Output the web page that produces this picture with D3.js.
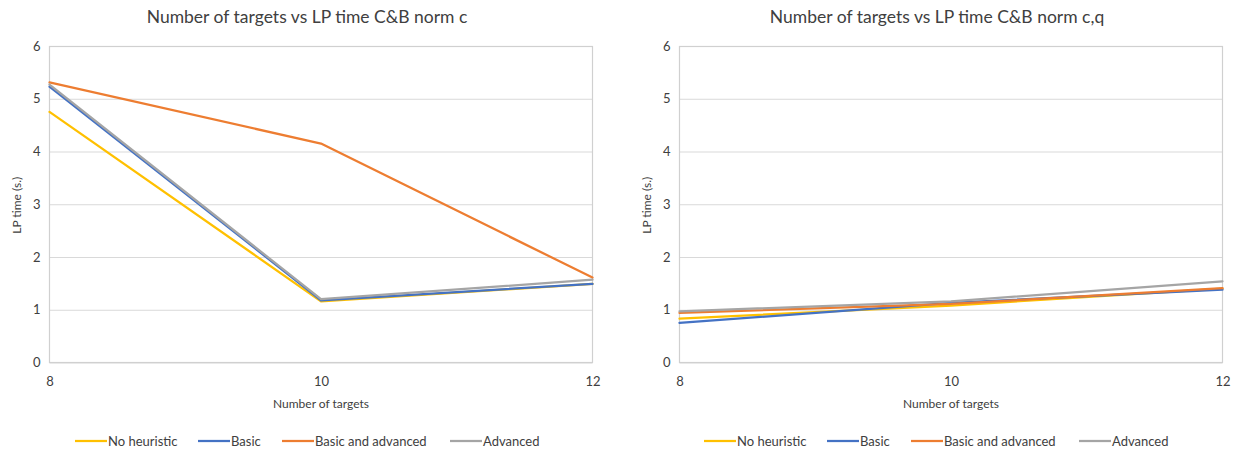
<!DOCTYPE html>
<html>
<head>
<meta charset="utf-8">
<script src="https://cdn.jsdelivr.net/npm/d3@7/dist/d3.min.js"></script>
<style>
  html, body { margin: 0; padding: 0; background: #fff; }
  svg { display: block; }
  text { font-family: Lato, "Open Sans", sans-serif; fill: #404040; }
</style>
</head>
<body>
<svg id="chart" width="1238" height="453"></svg>
<script>
// Number of targets on the x axis
const targets = [8, 10, 12];
const yTicks = [0, 1, 2, 3, 4, 5, 6];
const xTicks = [8, 10, 12];

const seriesNames = ["No heuristic", "Basic", "Basic and advanced", "Advanced"];
const seriesColors = ["#FFC000", "#4472C4", "#ED7D31", "#A5A5A5"];

// LP time (s.) for norm c
const normC_noHeuristic = [4.75, 1.16, 1.49];
const normC_basic = [5.23, 1.18, 1.49];
const normC_basicAdvanced = [5.31, 4.15, 1.61];
const normC_advanced = [5.27, 1.20, 1.57];

// LP time (s.) for norm c,q
const normCQ_noHeuristic = [0.83, 1.08, 1.40];
const normCQ_basic = [0.75, 1.13, 1.38];
const normCQ_basicAdvanced = [0.94, 1.11, 1.41];
const normCQ_advanced = [0.97, 1.16, 1.54];

const panels = [
  { title: "Number of targets vs LP time C&B norm c",
    series: [normC_noHeuristic, normC_basic, normC_basicAdvanced, normC_advanced],
    left: 49.5, right: 592.5, legendX: [75, 198, 282, 450] },
  { title: "Number of targets vs LP time C&B norm c,q",
    series: [normCQ_noHeuristic, normCQ_basic, normCQ_basicAdvanced, normCQ_advanced],
    left: 679.5, right: 1222.5, legendX: [704, 827, 911, 1079] }
];

const svg = d3.select("#chart");
const plotTop = 46, plotBottom = 362.5;

panels.forEach(p => {
  const x = d3.scaleLinear().domain([8, 12]).range([p.left, p.right]);
  const y = d3.scaleLinear().domain([0, 6]).range([plotBottom, plotTop]);
  const g = svg.append("g");
  const cx = (p.left + p.right) / 2;

  // title, centred over the whole panel (including the axis labels)
  g.append("text").attr("x", cx - 14).attr("y", 23)
    .attr("text-anchor", "middle").attr("font-size", 17.5)
    .text(p.title);

  // horizontal gridlines with value labels
  const yAxis = d3.axisLeft(y).tickValues(yTicks).tickFormat(d3.format("d"))
    .tickSize(-(p.right - p.left)).tickPadding(9);
  const ya = g.append("g").attr("transform", `translate(${p.left},0)`).call(yAxis);
  ya.select(".domain").remove();
  ya.selectAll(".tick line").attr("stroke", "#d9d9d9").attr("stroke-width", 1);
  ya.selectAll(".tick text").attr("font-size", 13).style("font-family", "Lato, sans-serif").style("fill", "#404040");

  // plot frame
  g.append("rect").attr("x", p.left).attr("y", plotTop + 0.5)
    .attr("width", p.right - p.left).attr("height", plotBottom - plotTop - 0.5)
    .attr("fill", "none").attr("stroke", "#d0d0d0").attr("stroke-width", 1.2);

  // x axis
  const xAxis = d3.axisBottom(x).tickValues(xTicks).tickFormat(d3.format("d"))
    .tickSize(0).tickPadding(14);
  const xa = g.append("g").attr("transform", `translate(0,${plotBottom})`).call(xAxis);
  xa.select(".domain").remove();
  xa.selectAll(".tick text").attr("font-size", 13).style("font-family", "Lato, sans-serif").style("fill", "#404040");

  // axis titles
  g.append("text").attr("x", cx).attr("y", 408).attr("text-anchor", "middle")
    .attr("font-size", 12).text("Number of targets");
  g.append("text").attr("transform", `translate(${p.left - 29},${(plotTop + plotBottom) / 2 + 1}) rotate(-90)`)
    .attr("text-anchor", "middle").attr("font-size", 12).text("LP time (s.)");

  // series lines
  const line = d3.line().x((d, i) => x(targets[i])).y(d => y(d));
  p.series.forEach((vals, k) => {
    g.append("path").datum(vals).attr("d", line)
      .attr("fill", "none").attr("stroke", seriesColors[k])
      .attr("stroke-width", 2.25).attr("stroke-linejoin", "round").attr("stroke-linecap", "round");
  });

  // legend
  seriesNames.forEach((name, k) => {
    const lx = p.legendX[k];
    g.append("line").attr("x1", lx).attr("x2", lx + 32).attr("y1", 441).attr("y2", 441)
      .attr("stroke", seriesColors[k]).attr("stroke-width", 2.25);
    g.append("text").attr("x", lx + 33).attr("y", 446).attr("font-size", 13).text(name);
  });
});
</script>
</body>
</html>
